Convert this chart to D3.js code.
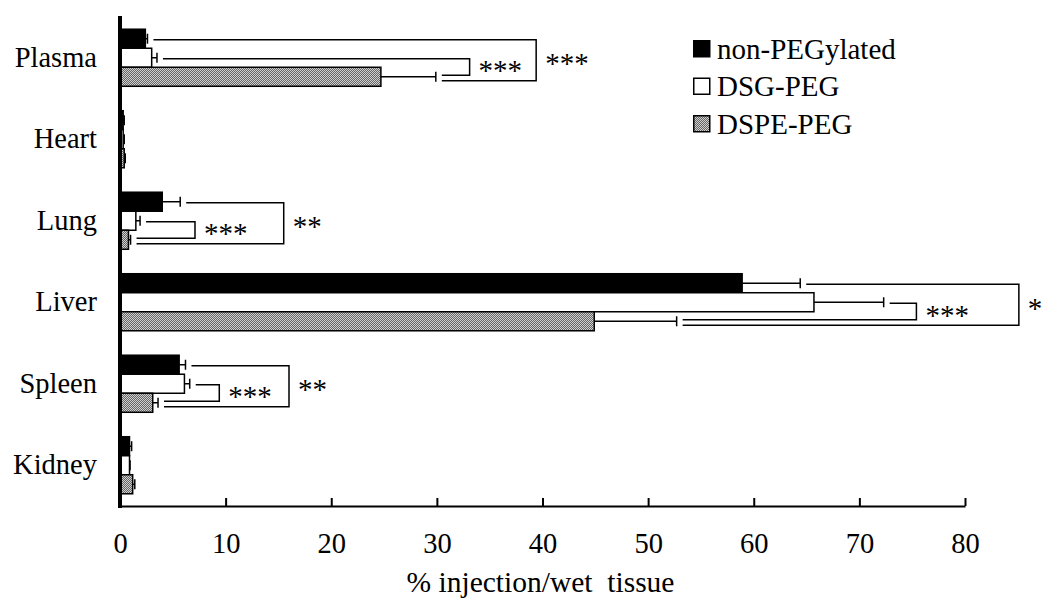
<!DOCTYPE html>
<html>
<head>
<meta charset="utf-8">
<script src="https://cdn.jsdelivr.net/npm/d3@7"></script>
<style>
  html, body { margin: 0; padding: 0; background: #fff; }
  svg { display: block; }
  text { font-family: "Liberation Serif", "Times New Roman", serif; fill: #000; }
</style>
</head>
<body>
<svg id="chart" width="1046" height="601"></svg>
<script>
// ---- Data ----
const categories = ["Plasma", "Heart", "Lung", "Liver", "Spleen", "Kidney"];
const seriesNames = ["non-PEGylated", "DSG-PEG", "DSPE-PEG"];
const nonPEGylated    = [2.4, 0.3, 4.0, 58.9, 5.6, 0.9];
const nonPEGylatedErr = [0.2, 0.1, 1.7, 5.5, 0.6, 0.2];
const dsgPEG          = [3.0, 0.3, 1.5, 65.7, 6.1, 0.9];
const dsgPEGErr       = [0.5, 0.1, 0.4, 6.6, 0.5, 0.05];
const dspePEG         = [24.7, 0.4, 0.8, 44.9, 3.1, 1.2];
const dspePEGErr      = [5.2, 0.1, 0.2, 7.8, 0.5, 0.2];
const xTicks = [0, 10, 20, 30, 40, 50, 60, 70, 80];
const xTitle = "% injection/wet\u00a0 tissue";

// significance brackets
const bracketCategory = ["Plasma", "Plasma", "Lung", "Lung", "Liver", "Liver", "Spleen", "Spleen"];
const bracketFrom     = [1, 0, 1, 0, 1, 0, 1, 0];   // series index of upper bar
const bracketTo       = [2, 2, 2, 2, 2, 2, 2, 2];   // series index of lower bar
const bracketReach    = [33.1, 39.4, 7.1, 15.5, 75.4, 85.1, 9.4, 16.0];
const bracketLabel    = ["***", "***", "***", "**", "***", "*", "***", "**"];

const values = [nonPEGylated, dsgPEG, dspePEG];
const errors = [nonPEGylatedErr, dsgPEGErr, dspePEGErr];

// ---- Layout ----
const svg = d3.select("#chart");
const x = d3.scaleLinear().domain([0, 80]).range([120, 965]);
const y = d3.scaleBand().domain(categories).range([17, 506]).paddingInner(0).paddingOuter(0);
const bw = y.bandwidth();
const ySub = d3.scaleBand().domain(d3.range(seriesNames.length)).range([bw * 0.15, bw * 0.85]);
const bh = ySub.bandwidth();

// pattern for DSPE-PEG
const defs = svg.append("defs");
const pat = defs.append("pattern").attr("id", "dots").attr("patternUnits", "userSpaceOnUse")
  .attr("width", 2).attr("height", 2);
pat.append("rect").attr("width", 2).attr("height", 2).attr("fill", "#666");
pat.append("rect").attr("x", 0).attr("y", 0).attr("width", 1).attr("height", 1).attr("fill", "#cfcfcf");
pat.append("rect").attr("x", 1).attr("y", 1).attr("width", 1).attr("height", 1).attr("fill", "#cfcfcf");

const fills = ["#000", "#fff", "url(#dots)"];

// rows of data
const rows = [];
categories.forEach((c, i) => {
  seriesNames.forEach((s, j) => {
    rows.push({ cat: c, s: j, v: values[j][i], e: errors[j][i] });
  });
});
const barY = d => y(d.cat) + ySub(d.s);

// error bars
const eg = svg.append("g");
rows.forEach(d => {
  const cy = barY(d) + bh / 2;
  eg.append("line").attr("x1", x(d.v)).attr("x2", x(d.v + d.e)).attr("y1", cy).attr("y2", cy)
    .attr("stroke", "#000").attr("stroke-width", 1.5);
  eg.append("line").attr("x1", x(d.v + d.e)).attr("x2", x(d.v + d.e)).attr("y1", cy - 5).attr("y2", cy + 5)
    .attr("stroke", "#000").attr("stroke-width", 1.5);
});

// bars
svg.append("g").selectAll("rect").data(rows).join("rect")
  .attr("x", x(0))
  .attr("y", d => barY(d))
  .attr("width", d => x(d.v) - x(0))
  .attr("height", bh)
  .attr("fill", d => fills[d.s])
  .attr("stroke", "#000")
  .attr("stroke-width", 1.5);

// brackets
const bg = svg.append("g");
const gap = 6;
bracketCategory.forEach((c, k) => {
  const ci = categories.indexOf(c);
  const a = bracketFrom[k], b = bracketTo[k];
  const yTop = y(c) + ySub(a) + bh / 2 + 1;
  const yBot = y(c) + ySub(b) + bh / 2 + (a === 0 ? 4 : -1.5);
  const xTop = x(values[a][ci] + errors[a][ci]) + gap;
  const xBot = x(values[b][ci] + errors[b][ci]) + gap;
  const xr = x(bracketReach[k]);
  bg.append("path")
    .attr("d", `M${xTop},${yTop}H${xr}V${yBot}H${xBot}`)
    .attr("fill", "none").attr("stroke", "#000").attr("stroke-width", 1.5);
  bg.append("text")
    .attr("x", xr + 9)
    .attr("y", (yTop + yBot) / 2 + 13)
    .attr("font-size", 29)
    .text(bracketLabel[k]);
});

// x axis
const xAxis = d3.axisBottom(x).tickValues(xTicks).tickFormat(d3.format("d"))
  .tickSizeInner(-8).tickSizeOuter(0).tickPadding(27);
const ax = svg.append("g").attr("transform", "translate(0,506)").call(xAxis);
ax.select(".domain").attr("stroke", "#000").attr("stroke-width", 2);
ax.selectAll(".tick line").attr("stroke", "#000").attr("stroke-width", 2);
ax.selectAll(".tick text").attr("font-size", 28.5)
  .attr("font-family", "'Liberation Serif', 'Times New Roman', serif").attr("fill", "#000");

// y axis (thick line, category labels)
svg.append("line").attr("x1", 120).attr("x2", 120).attr("y1", 16).attr("y2", 508)
  .attr("stroke", "#000").attr("stroke-width", 4);
svg.append("g").selectAll("text").data(categories).join("text")
  .attr("x", 97)
  .attr("y", d => y(d) + bw / 2)
  .attr("dy", "0.32em")
  .attr("text-anchor", "end")
  .attr("font-size", 28.5)
  .text(d => d);

// x title
svg.append("text").attr("x", (x(0) + x(80)) / 2 - 2).attr("y", 592)
  .attr("text-anchor", "middle").attr("font-size", 29.5).text(xTitle);

// legend
const lg = svg.append("g").attr("transform", "translate(693,40)");
seriesNames.forEach((s, i) => {
  const row = lg.append("g").attr("transform", `translate(0,${i * 37.5})`);
  row.append("rect").attr("x", 0.75).attr("y", 0.75).attr("width", 16).attr("height", 16)
    .attr("fill", fills[i]).attr("stroke", "#000").attr("stroke-width", 1.5);
  row.append("text").attr("x", 24).attr("y", 9).attr("dy", "0.34em").attr("font-size", 29).text(s);
});
</script>
</body>
</html>
